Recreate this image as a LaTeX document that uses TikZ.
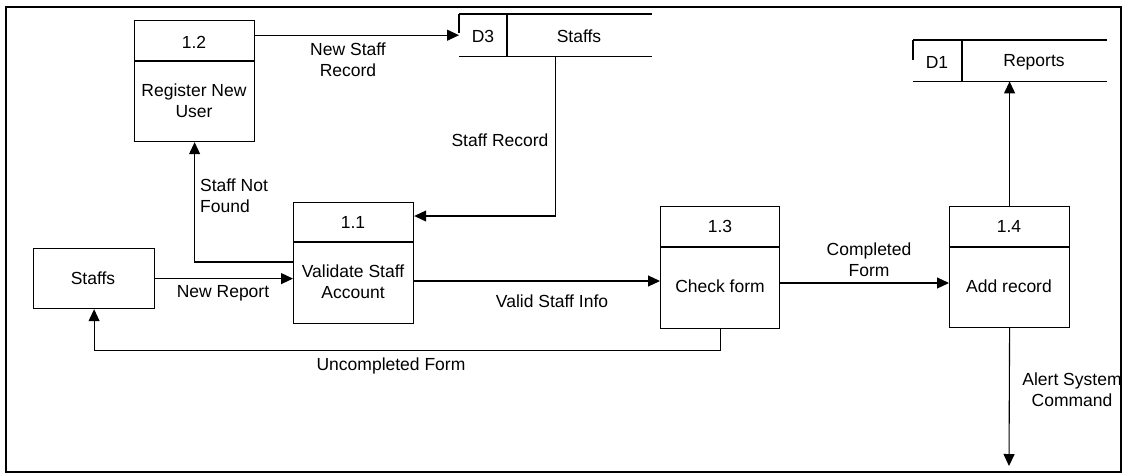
\documentclass[tikz,border=0pt]{standalone}
\usepackage{fontspec}
\setmainfont{Liberation Sans}
\usetikzlibrary{arrows.meta}
\begin{document}
\begin{tikzpicture}[x=1pt,y=-1pt,
  every node/.style={font=\fontsize{17.5pt}{21pt}\selectfont, inner sep=0pt, align=center},
  proc/.style={draw, line width=1.2pt, minimum width=120pt, minimum height=121pt, anchor=north west},
  ext/.style={draw, line width=1.2pt, minimum width=121pt, minimum height=60pt, anchor=north west},
  store/.style={minimum height=42pt, anchor=north west},
  storeline/.style={line width=1.2pt},
  flow/.style={line width=1.1pt, -{Triangle[length=12pt,width=11pt]}},
  lbl/.style={}
]
\useasboundingbox (0,0) rectangle (1129,475);
\draw[line width=2.5pt] (6,7) rectangle (1121,472);

% processes
\node[proc] (p12) at (134,20) {};
\draw[line width=1.2pt] ([yshift=-41pt]p12.north west) -- ([yshift=-41pt]p12.north east);
\node (p12n) at (194,42) {1.2};
\node (p12t) at (194,101) {Register New\\User};

\node[proc] (p11) at (293,202) {};
\draw[line width=1.2pt] ([yshift=-40pt]p11.north west) -- ([yshift=-40pt]p11.north east);
\node (p11n) at (353,222) {1.1};
\node (p11t) at (353,282) {Validate Staff\\Account};

\node[proc, minimum width=119pt, minimum height=122pt] (p13) at (660,206) {};
\draw[line width=1.2pt] ([yshift=-41pt]p13.north west) -- ([yshift=-41pt]p13.north east);
\node (p13n) at (720,226) {1.3};
\node (p13t) at (720,286) {Check form};

\node[proc] (p14) at (949,206) {};
\draw[line width=1.2pt] ([yshift=-41pt]p14.north west) -- ([yshift=-41pt]p14.north east);
\node (p14n) at (1009,226) {1.4};
\node (p14t) at (1009,286) {Add record};

% external entity
\node[ext] (staffs) at (33,248) {};
\node (staffst) at (93,278) {Staffs};

% data stores
\node[store, minimum width=193pt] (d3) at (459,14) {};
\draw[storeline] (d3.north west) -- (d3.north east);
\draw[storeline] (d3.south west) -- (d3.south east);
\draw[storeline] (d3.north west) -- ([yshift=-19pt]d3.north west);
\draw[storeline] ([xshift=48pt]d3.north west) -- ([xshift=48pt]d3.south west);
\node (d3id) at (483,36) {D3};
\node (d3t) at (579,36) {Staffs};

\node[store, minimum width=194pt, minimum height=41pt] (d1) at (913,40) {};
\draw[storeline] (d1.north west) -- (d1.north east);
\draw[storeline] (d1.south west) -- (d1.south east);
\draw[storeline] (d1.north west) -- ([yshift=-20pt]d1.north west);
\draw[storeline] ([xshift=49pt]d1.north west) -- ([xshift=49pt]d1.south west);
\node (d1id) at (937,62) {D1};
\node (d1t) at (1034,62) {Reports};

% flows
\draw[flow] (p12.east |- d3.west) -- (d3.west);
\node[lbl] (l1) at (348,60) {New Staff\\Record};

\draw[flow] (d3.south) |- ([yshift=-14pt]p11.north east);
\node[lbl] (l2) at (500,140) {Staff Record};

\draw[flow] ([yshift=-60pt]p11.north west) -| (p12.south);
\node[lbl, align=left] (l3) at (234,196) {Staff Not\\Found};

\draw[flow] (staffs.east) -- (p11.west |- staffs.east);
\node[lbl] (l4) at (223,293) {New Report};

\draw[flow] (p11.east |- 0,281) -- (p13.west |- 0,281);
\node[lbl] (l5) at (552,301) {Valid Staff Info};

\draw[flow] (p13.east |- 0,283) -- (p14.west |- 0,283);
\node[lbl] (l6) at (869,260) {Completed\\Form};

\draw[flow] (p13.south) -- ++(0,21) -| (staffs.south);
\node[lbl] (l7) at (391,366) {Uncompleted Form};

\draw[flow] (p14.north) -- (p14.north |- d1.south);

\coordinate (alertend) at (1009,466);
\draw[flow] (p14.south) -- (alertend);
\node[lbl] (l8) at (1072,390) {Alert System\\Command};
\end{tikzpicture}
\end{document}
